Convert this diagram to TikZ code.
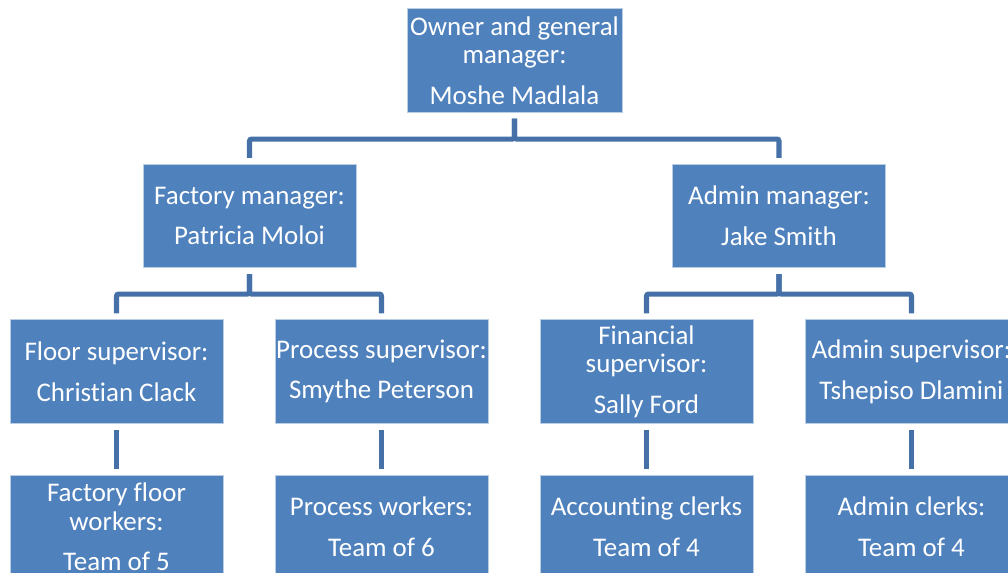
\documentclass[tikz,border=0pt]{standalone}
\usepackage{fontspec}
\setmainfont{Carlito}[Ligatures=NoCommon]
\definecolor{boxblue}{HTML}{4F81BD}
\definecolor{linkblue}{HTML}{4571A8}
\tikzset{
  post/.style={fill=boxblue, draw=boxblue!40!white, line width=0.6pt,
    minimum width=159.75pt, minimum height=77.5pt, inner sep=0pt,
    align=center, text=white, font=\fontsize{20.2}{21.5}\selectfont},
  link/.style={draw=linkblue, line width=3.8pt, rounded corners=1.5pt,
    shorten <=4.5pt, shorten >=4.5pt}
}
\begin{document}
\begin{tikzpicture}[x=0.75pt,y=-0.75pt]
  \useasboundingbox (0,0) rectangle (1008,573);
  \clip (0,0) rectangle (1008,573);

  % top
  \node[post, minimum width=161.25pt] (boss) at (514.5,60.5) {Owner and general\\manager:\\[9pt]Moshe Madlala};

  % managers
  \node[post] (fac) at (249.5,216) {Factory manager:\\[9pt]Patricia Moloi};
  \node[post] (adm) at (779,216) {Admin manager:\\[9pt]Jake Smith};

  % supervisors
  \node[post] (flo) at (116.5,371.5) {Floor supervisor:\\[9pt]Christian Clack};
  \node[post] (pro) at (381.5,371.5) {Process supervisor:\\[9pt]Smythe Peterson};
  \node[post] (fin) at (646.5,371.5) {Financial\\supervisor:\\[9pt]Sally Ford};
  \node[post] (ads) at (911.5,371.5) {Admin supervisor:\\[9pt]Tshepiso Dlamini};

  % teams
  \node[post] (flw) at (116.5,527) {Factory floor\\workers:\\[9pt]Team of 5};
  \node[post] (prw) at (381.5,527) {Process workers:\\[9pt]Team of 6};
  \node[post] (acc) at (646.5,527) {Accounting clerks\\[9pt]Team of 4};
  \node[post] (adc) at (911.5,527) {Admin clerks:\\[9pt]Team of 4};

  % connectors
  \draw[link] (boss.south) -- ++(0,26.5) -| (fac.north);
  \draw[link] (boss.south) -- ++(0,26.5) -| (adm.north);
  \draw[link] (fac.south) -- ++(0,26) -| (flo.north);
  \draw[link] (fac.south) -- ++(0,26) -| (pro.north);
  \draw[link] (adm.south) -- ++(0,26) -| (fin.north);
  \draw[link] (adm.south) -- ++(0,26) -| (ads.north);
  \draw[link] (flo) -- (flw);
  \draw[link] (pro) -- (prw);
  \draw[link] (fin) -- (acc);
  \draw[link] (ads) -- (adc);
\end{tikzpicture}
\end{document}
